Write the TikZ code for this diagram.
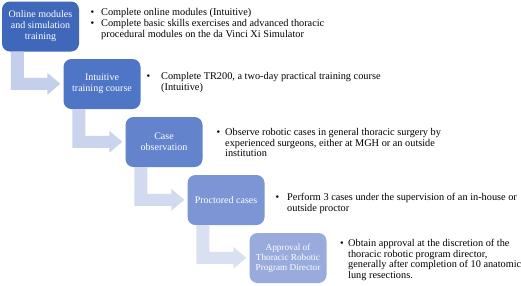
\documentclass[tikz,border=0pt]{standalone}
\usepackage{fontspec}
\setmainfont{Liberation Serif}
\usetikzlibrary{calc}
\definecolor{cA}{RGB}{64,104,186}
\definecolor{cB}{RGB}{79,117,198}
\definecolor{cC}{RGB}{99,131,205}
\definecolor{cD}{RGB}{124,149,213}
\definecolor{cE}{RGB}{153,171,221}
\definecolor{aA}{RGB}{196,207,235}
\definecolor{aB}{RGB}{203,212,237}
\definecolor{aC}{RGB}{210,218,240}
\definecolor{aD}{RGB}{217,224,242}
\newcommand{\bl}[1]{\makebox[#1][l]{\textbullet}}
\begin{document}
\begin{tikzpicture}[x=1pt,y=-1pt,
  stepbox/.style={rounded corners=8pt,minimum width=77pt,minimum height=50pt,inner sep=1pt,
    text=white,align=center,font=\fontsize{10}{11}\selectfont},
  desc/.style={anchor=north west,inner sep=0pt,align=left,font=\fontsize{10.3}{10.8}\selectfont}]
\useasboundingbox (0,0) rectangle (521,285);
\node[stepbox,fill=cA] (b1) at (40.5,26.5) {Online modules\\and simulation\\training};
\node[stepbox,fill=cB] (b2) at (102,84) {Intuitive\\training course};
\node[stepbox,fill=cC] (b3) at (164,142) {Case\\observation};
\node[stepbox,fill=cD] (b4) at (226,200) {Proctored cases};
\node[stepbox,fill=cE,font=\fontsize{9.2}{9.9}\selectfont] (b5) at (288,258) {Approval of\\Thoracic Robotic\\Program Director};
\foreach \a/\b/\c in {b1/b2/aA,b2/b3/aB,b3/b4/aC,b4/b5/aD}{
  \fill[\c] ($(\a.south west)+(9,0)$) -- ($(\a.south west)+(22,0)$)
    |- ($(\b.north west)+(-16,19)$) -- ($(\b.north west)+(-16,14)$)
    -- ($(\b.north west)+(-3,25)$) -- ($(\b.north west)+(-16,36)$)
    -- ($(\b.north west)+(-16,31)$) -| cycle;
}
\node[desc] (t1) at (90.5,8) {\begin{tabular}[t]{@{}l@{}l@{}}
\bl{10.5pt}&Complete online modules (Intuitive)\\
\bl{10.5pt}&Complete basic skills exercises and advanced thoracic\\
&procedural modules on the da Vinci Xi Simulator\end{tabular}};
\node[desc] (t2) at (146.5,71.5) {\begin{tabular}[t]{@{}l@{}l@{}}
\bl{14.5pt}&Complete TR200, a two-day practical training course\\
&(Intuitive)\end{tabular}};
\node[desc] (t3) at (216.5,127.5) {\begin{tabular}[t]{@{}l@{}l@{}}
\bl{8.5pt}&Observe robotic cases in general thoracic surgery by\\
&experienced surgeons, either at MGH or an outside\\
&institution\end{tabular}};
\node[desc] (t4) at (275.5,192.5) {\begin{tabular}[t]{@{}l@{}l@{}}
\bl{11.5pt}&Perform 3 cases under the supervision of an in-house or\\
&outside proctor\end{tabular}};
\node[desc] (t5) at (340,238.5) {\begin{tabular}[t]{@{}l@{}l@{}}
\bl{8pt}&Obtain approval at the discretion of the\\
&thoracic robotic program director,\\
&generally after completion of 10 anatomic\\
&lung resections.\end{tabular}};
\end{tikzpicture}
\end{document}
